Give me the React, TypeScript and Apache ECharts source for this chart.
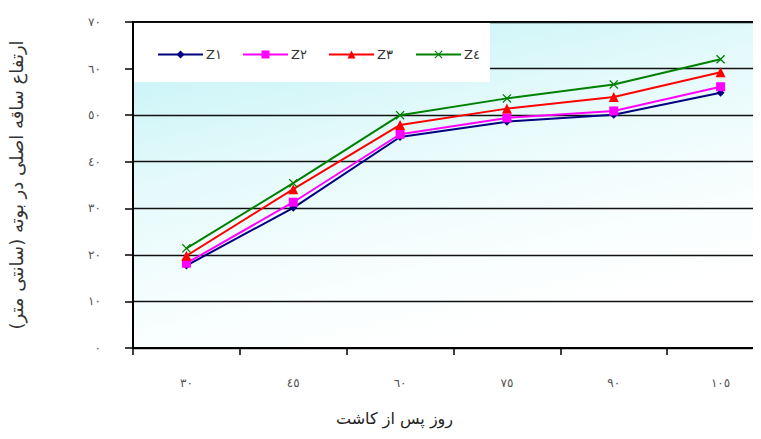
import React, { useEffect, useRef } from "react";
import * as echarts from "echarts";

const categories = ["٣٠", "٤٥", "٦٠", "٧٥", "٩٠", "١٠٥"];
const seriesNames = ["Z١", "Z٢", "Z٣", "Z٤"];
const z1 = [17.7, 30.1, 45.3, 48.6, 50.1, 54.8];
const z2 = [18.2, 31.3, 45.9, 49.4, 50.9, 56.1];
const z3 = [19.8, 34.1, 47.9, 51.4, 53.9, 59.2];
const z4 = [21.4, 35.4, 50.0, 53.6, 56.6, 62.0];
const yTickLabels = ["٠", "١٠", "٢٠", "٣٠", "٤٠", "٥٠", "٦٠", "٧٠"];
const yAxisTitle = "ارتفاع ساقه اصلی در بوته (سانتی متر)";
const xAxisTitle = "روز پس از کاشت";

const colors = ["#000080", "#ff00ff", "#ff0000", "#008000"];
const symbols = [
  "diamond",
  "rect",
  "triangle",
  "path://M0,1L1,0L5,4L9,0L10,1L6,5L10,9L9,10L5,6L1,10L0,9L4,5Z",
];
const symbolSizes = [8, 9, 10, 9];
const legendLefts = [152, 237, 323, 410];

export default function App() {
  const ref = useRef<HTMLDivElement>(null);
  useEffect(() => {
    if (!ref.current) return;
    const chart = echarts.init(ref.current, null, { renderer: "svg" });
    const data = [z1, z2, z3, z4];
    chart.setOption({
      animation: false,
      backgroundColor: "#ffffff",
      textStyle: { fontFamily: "DejaVu Sans" },
      grid: {
        left: 133,
        top: 22,
        right: -13,
        bottom: 91,
        show: true,
        borderColor: "#000",
        borderWidth: 2,
        outerBoundsMode: "none",
        backgroundColor: new echarts.graphic.LinearGradient(0, 0, 0.45, 1, [
          { offset: 0, color: "#bff2f6" },
          { offset: 0.45, color: "#e6fafb" },
          { offset: 0.8, color: "#f9fefe" },
          { offset: 1, color: "#ffffff" },
        ]),
      },
      legend: seriesNames.map((n, i) => ({
        data: [n],
        left: legendLefts[i],
        top: 43,
        itemWidth: 45,
        itemHeight: 10,
        itemGap: 0,
        z: 10,
        textStyle: {
          fontSize: 13,
          color: "#333",
          fontFamily: "DejaVu Sans",
          padding: [0, 0, 10, -2],
        },
      })),
      graphic: [
        {
          type: "rect",
          z: 5,
          shape: { x: 134, y: 23, width: 356, height: 59 },
          style: { fill: "#ffffff" },
        },
        {
          type: "text",
          left: 336,
          top: 410,
          style: {
            text: xAxisTitle,
            fontSize: 16,
            fill: "#222",
            fontFamily: "DejaVu Sans",
          },
        },
      ],
      xAxis: {
        type: "category",
        data: categories,
        boundaryGap: true,
        axisLine: { lineStyle: { color: "#000", width: 2 } },
        axisTick: { show: true, length: 7, lineStyle: { color: "#000", width: 1.5 } },
        axisLabel: { color: "#555", fontSize: 12, margin: 29 },
        splitLine: { show: false },
      },
      yAxis: {
        type: "value",
        min: 0,
        max: 70,
        interval: 10,
        name: yAxisTitle,
        nameLocation: "middle",
        nameRotate: 90,
        nameGap: 108,
        nameTextStyle: { fontSize: 18, color: "#333", fontFamily: "DejaVu Sans" },
        axisLine: { show: true, lineStyle: { color: "#000", width: 2 } },
        axisTick: { show: true, length: 8, lineStyle: { color: "#000", width: 1.5 } },
        axisLabel: {
          color: "#555",
          fontSize: 12,
          margin: 32,
          formatter: (v: number) => yTickLabels[Math.round(v / 10)] ?? "",
        },
        splitLine: { show: true, lineStyle: { color: "#111", width: 1.3 } },
      },
      series: seriesNames.map((n, i) => ({
        name: n,
        type: "line",
        data: data[i],
        symbol: symbols[i],
        symbolSize: symbolSizes[i],
        showSymbol: true,
        z: 6,
        lineStyle: { color: colors[i], width: 2 },
        itemStyle: { color: colors[i], borderColor: colors[i], borderWidth: 0 },
      })),
    });
    return () => chart.dispose();
  }, []);
  return <div ref={ref} style={{ width: 761, height: 439, margin: -8 }} />;
}
